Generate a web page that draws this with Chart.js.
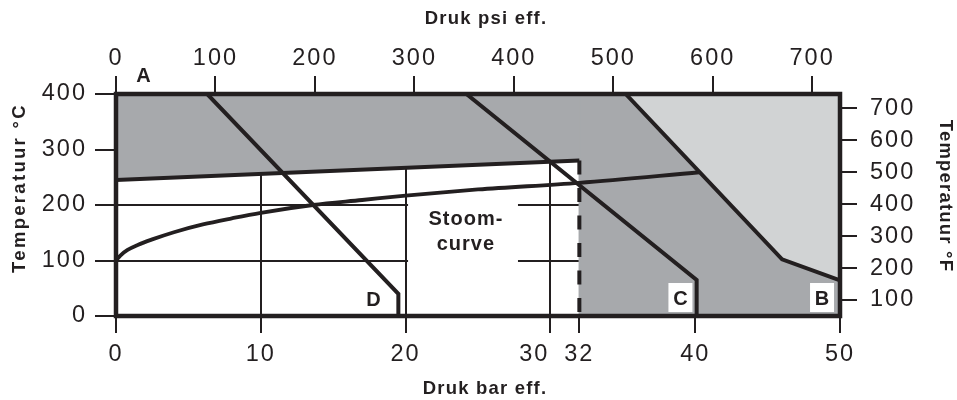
<!DOCTYPE html>
<html>
<head>
<meta charset="utf-8">
<script src="https://cdn.jsdelivr.net/npm/chart.js@4.4.0/dist/chart.umd.min.js"></script>
<style>
html,body{margin:0;padding:0;background:#ffffff;}
#wrap{width:957px;height:400px;position:relative;}
</style>
</head>
<body>
<div id="wrap"><canvas id="chart" width="957" height="400"></canvas></div>
<script>
// ---------- tick labels ----------
const barTicks = [0, 10, 20, 30, 32, 40, 50];
const psiTicks = [0, 100, 200, 300, 400, 500, 600, 700];
const celsiusTicks = [0, 100, 200, 300, 400];
const fahrenheitTicks = [100, 200, 300, 400, 500, 600, 700];

// ---------- series (pressure in bar eff., temperature in °C) ----------
const lineA_bar = [0, 32];
const lineA_temp = [245, 280];

const steam_bar = [0, 0.3, 0.8, 1.5, 2.5, 4, 6, 8, 10, 13.6, 17, 20, 25, 32, 40.3];
const steam_temp = [100, 109, 119, 128, 138, 151, 165, 176, 186, 200, 209, 217, 228, 240, 259];

const lineD_bar = [6.3, 19.5, 19.5];
const lineD_temp = [400, 40, 0];

const lineC_bar = [24.2, 40.1, 40.1];
const lineC_temp = [400, 65, 0];

const lineB_bar = [35.2, 46, 50];
const lineB_temp = [400, 102, 64];

const limit_bar = [32, 32];
const limit_temp = [280, 0];

const regionLabels = ['A', 'B', 'C', 'D'];
const steamLabel = ['Stoom-', 'curve'];

// ---------- styles ----------
const INK = '#231f20';
const GRAY = '#a7a9ac';
const LIGHT = '#d1d3d4';
const FONT = "'Liberation Sans', Arial, Helvetica, sans-serif";

const pts = (xs, ys) => xs.map((x, i) => ({x: x, y: ys[i]}));
const T_MIN = celsiusTicks[0];
const T_MAX = celsiusTicks[celsiusTicks.length - 1];

// label anchors in data units (bar, °C)
const labelPos = {
  A: {x: 1.9, y: 421.6, box: false},
  D: {x: 17.78, y: 18, box: false},
  C: {x: 38.98, y: 19.8, box: true},
  B: {x: 48.76, y: 19.8, box: true}
};
const steamPos = {x: 24.13, y1: 164, y2: 119, boxX0: 20.17, boxX1: 27.76, boxY0: 209, boxY1: 91.9};

const decor = {
  id: 'decor',
  beforeDraw(chart) {
    chart.ctx.letterSpacing = '2px';
  },
  afterDatasetsDraw(chart) {
    const ctx = chart.ctx;
    const a = chart.chartArea;
    const sx = chart.scales.x, sy = chart.scales.y;
    ctx.save();
    // frame
    ctx.strokeStyle = INK;
    ctx.lineWidth = 4.5;
    ctx.strokeRect(a.left, a.top, a.right - a.left, a.bottom - a.top);

    ctx.letterSpacing = '1px';
    ctx.font = 'bold 20px ' + FONT;
    ctx.textAlign = 'center';
    ctx.textBaseline = 'alphabetic';
    // steam label with white background
    const bx0 = sx.getPixelForValue(steamPos.boxX0), bx1 = sx.getPixelForValue(steamPos.boxX1);
    const by0 = sy.getPixelForValue(steamPos.boxY0), by1 = sy.getPixelForValue(steamPos.boxY1);
    ctx.fillStyle = '#ffffff';
    ctx.fillRect(bx0, by0, bx1 - bx0, by1 - by0);
    ctx.fillStyle = INK;
    const scx = sx.getPixelForValue(steamPos.x) + 0.5;
    ctx.fillText(steamLabel[0], scx, sy.getPixelForValue(steamPos.y1));
    ctx.fillText(steamLabel[1], scx, sy.getPixelForValue(steamPos.y2));

    regionLabels.forEach(function (name) {
      const p = labelPos[name];
      const px = sx.getPixelForValue(p.x), py = sy.getPixelForValue(p.y);
      if (p.box) {
        ctx.fillStyle = '#ffffff';
        ctx.fillRect(px - 12, py - 22, 24, 29);
      }
      ctx.fillStyle = INK;
      ctx.fillText(name, px + 0.5, py);
    });

    // axis titles
    ctx.font = 'bold 18.5px ' + FONT;
    ctx.letterSpacing = '1.2px';
    ctx.textBaseline = 'middle';
    ctx.fillStyle = INK;
    ctx.fillText('Druk psi eff.', 486, 19);
    ctx.fillText('Druk bar eff.', 485, 389);
    ctx.save();
    ctx.letterSpacing = '2.3px';
    ctx.translate(20, 188);
    ctx.rotate(-Math.PI / 2);
    ctx.fillText('Temperatuur °C', 0, 0);
    ctx.restore();
    ctx.save();
    ctx.translate(945, 196);
    ctx.rotate(Math.PI / 2);
    ctx.fillText('Temperatuur °F', 0, 0);
    ctx.restore();
    ctx.restore();
  }
};

const tickFont = {family: FONT, size: 23.5};
const setTicks = (arr) => (scale) => { scale.ticks = arr.map(v => ({value: v})); };

const lineStyle = {showLine: true, pointRadius: 0, pointHoverRadius: 0, borderColor: INK, borderWidth: 4, fill: false};

new Chart(document.getElementById('chart'), {
  type: 'scatter',
  data: {
    datasets: [
      Object.assign({}, lineStyle, {label: 'grens 32', data: pts(limit_bar, limit_temp), borderDash: [14, 13.5], order: 1}),
      Object.assign({}, lineStyle, {label: 'B', data: pts(lineB_bar, lineB_temp), fill: 'end', backgroundColor: LIGHT, order: 2}),
      Object.assign({}, lineStyle, {label: 'C', data: pts(lineC_bar, lineC_temp), order: 3}),
      Object.assign({}, lineStyle, {label: 'D', data: pts(lineD_bar, lineD_temp), order: 4}),
      Object.assign({}, lineStyle, {label: 'Stoomcurve', data: pts(steam_bar, steam_temp), cubicInterpolationMode: 'monotone', borderWidth: 3.8, order: 5}),
      Object.assign({}, lineStyle, {label: 'A', data: pts(lineA_bar, lineA_temp), fill: 'end', backgroundColor: GRAY, order: 6}),
      Object.assign({}, lineStyle, {
        label: 'gebied B/C',
        data: [{x: limit_bar[0], y: T_MIN}, {x: limit_bar[0], y: T_MAX}].concat(pts(lineB_bar, lineB_temp)),
        fill: 'origin', backgroundColor: GRAY, borderColor: GRAY, borderWidth: 1.6, order: 7
      })
    ]
  },
  options: {
    responsive: false,
    animation: false,
    devicePixelRatio: 1,
    layout: {padding: 0},
    plugins: {legend: {display: false}, tooltip: {enabled: false}, title: {display: false}},
    scales: {
      x: {
        type: 'linear', position: 'bottom', min: 0, max: 50,
        afterBuildTicks: setTicks(barTicks),
        afterFit: (s) => { s.height = 84; },
        ticks: {
          font: tickFont, color: INK, padding: 7, maxRotation: 0, autoSkip: false,
          callback: (v) => (v === 30 ? '30\u2003\u2009' : String(v))
        },
        grid: {
          color: (c) => (c.tick && c.tick.value === 32 ? 'rgba(0,0,0,0)' : INK),
          tickColor: INK, lineWidth: 2, tickLength: 17, drawTicks: true
        },
        border: {display: false},
        title: {display: false}
      },
      x2: {
        type: 'linear', position: 'top', min: 0, max: 728,
        afterBuildTicks: setTicks(psiTicks),
        afterFit: (s) => { s.height = 94; },
        ticks: {font: tickFont, color: INK, padding: 3, maxRotation: 0, autoSkip: false},
        grid: {color: INK, lineWidth: 2, tickLength: 18, drawOnChartArea: false},
        border: {display: false}
      },
      y: {
        type: 'linear', position: 'left', min: 0, max: 400,
        afterBuildTicks: setTicks(celsiusTicks),
        afterFit: (s) => { s.width = 116; },
        ticks: {font: tickFont, color: INK, padding: 8, autoSkip: false},
        grid: {color: INK, lineWidth: 2, tickLength: 21},
        border: {display: false}
      },
      y2: {
        type: 'linear', position: 'right', min: 50, max: 744,
        afterBuildTicks: setTicks(fahrenheitTicks),
        afterFit: (s) => { s.width = 117; },
        ticks: {font: tickFont, color: INK, padding: 13, autoSkip: false},
        grid: {color: INK, lineWidth: 2, tickLength: 17, drawOnChartArea: false},
        border: {display: false}
      }
    }
  },
  plugins: [decor]
});
</script>
</body>
</html>
